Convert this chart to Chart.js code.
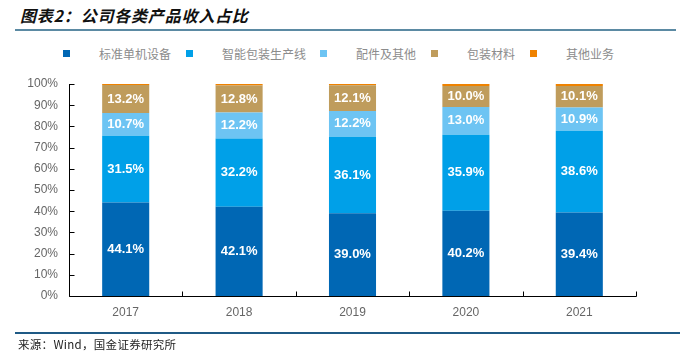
<!DOCTYPE html>
<html>
<head>
<meta charset="utf-8">
<script src="https://cdn.jsdelivr.net/npm/chart.js@4.4.1/dist/chart.umd.min.js"></script>
<style>
  body { margin: 0; background: #fff; width: 690px; height: 351px; position: relative; overflow: hidden; }
  #titulo {
    position: absolute; left: 20px; top: 3px;
    font-family: "Noto Sans CJK SC", sans-serif; font-weight: bold; font-style: italic;
    font-size: 16px; letter-spacing: 0.8px; color: #111;
  }
  #lineaTitulo { position: absolute; left: 15px; top: 29px; width: 661px; height: 2px; background: #5b8aa3; }
  #leyenda { position: absolute; top: 45px; left: 0; height: 18px; }
  .item { position: absolute; top: 0; white-space: nowrap; font-family: "Noto Sans CJK SC", sans-serif; font-size: 12px; color: #8c8c8c; line-height: 18px; }
  .caja { position: absolute; top: 5px; width: 7px; height: 7px; }
  #lineaFuente { position: absolute; left: 15px; top: 332px; width: 665px; height: 2px; background: #1f5a85; }
  #fuente {
    position: absolute; left: 18px; top: 336px;
    font-family: "Noto Sans CJK SC", "DejaVu Sans Mono", monospace; font-size: 11.5px; color: #222; letter-spacing: 0.3px;
  }
  canvas { position: absolute; left: 0; top: 0; }
</style>
</head>
<body>
<div id="titulo">图表2：公司各类产品收入占比</div>
<div id="lineaTitulo"></div>
<div id="leyenda"></div>
<canvas id="grafico" width="690" height="351"></canvas>
<div id="lineaFuente"></div>
<div id="fuente">来源：Wind，国金证券研究所</div>
<script>
const anios = ['2017', '2018', '2019', '2020', '2021'];
const series = ['标准单机设备', '智能包装生产线', '配件及其他', '包装材料', '其他业务'];
const colores = ['#0067b4', '#00a0e8', '#6dc4f3', '#bf9c5c', '#ef8200'];

const estandar = [44.1, 42.1, 39.0, 40.2, 39.4];
const lineas = [31.5, 32.2, 36.1, 35.9, 38.6];
const accesorios = [10.7, 12.2, 12.2, 13.0, 10.9];
const materiales = [13.2, 12.8, 12.1, 10.0, 10.1];
const otros = [0.5, 0.7, 0.6, 0.9, 1.0];

const valores = [estandar, lineas, accesorios, materiales, otros];
const posLeyenda = [63, 186, 320, 431, 530];

// leyenda en HTML
const leyenda = document.getElementById('leyenda');
series.forEach((nombre, i) => {
    const item = document.createElement('div');
    item.className = 'item';
    item.style.left = posLeyenda[i] + 'px';
    item.innerHTML = `<span class="caja" style="left:0;background:${colores[i]}"></span><span style="margin-left:36px">${nombre}</span>`;
    leyenda.appendChild(item);
});

const etiquetas = {
    id: 'etiquetas',
    afterDatasetsDraw(chart) {
        const ctx = chart.ctx;
        ctx.save();
        ctx.fillStyle = '#fff';
        ctx.font = 'bold 13px "Liberation Sans", Arial, sans-serif';
        ctx.textAlign = 'center';
        ctx.textBaseline = 'middle';
        chart.data.datasets.forEach((ds, i) => {
            if (i > 3) return;
            chart.getDatasetMeta(i).data.forEach((bar, j) => {
                const { x, y, base } = bar.getProps(['x', 'y', 'base'], true);
                ctx.fillText(ds.data[j].toFixed(1) + '%', x, (y + base) / 2);
            });
        });
        ctx.restore();
    }
};

const ejes = {
    id: 'ejes',
    afterDraw(chart) {
        const ctx = chart.ctx;
        const { left, right, top, bottom } = chart.chartArea;
        const x = chart.scales.x, y = chart.scales.y;
        ctx.save();
        ctx.strokeStyle = '#000';
        ctx.lineWidth = 1;
        ctx.beginPath();
        const l = Math.round(left) + 0.5, b = Math.round(bottom) + 0.5;
        ctx.moveTo(l, Math.round(top));
        ctx.lineTo(l, b);
        ctx.lineTo(Math.round(right) + 0.5, b);
        y.ticks.forEach(t => {
            const py = Math.round(y.getPixelForValue(t.value)) + 0.5;
            ctx.moveTo(l, py);
            ctx.lineTo(l + 5, py);
        });
        const paso = x.getPixelForValue(1) - x.getPixelForValue(0);
        for (let i = 0; i <= anios.length; i++) {
            const px = Math.round(x.getPixelForValue(i) - paso / 2) + 0.5;
            ctx.moveTo(px, b);
            ctx.lineTo(px, b - 5);
        }
        ctx.stroke();
        ctx.restore();
    }
};

new Chart(document.getElementById('grafico'), {
    type: 'bar',
    data: {
        labels: anios,
        datasets: series.map((nombre, i) => ({
            label: nombre,
            data: valores[i],
            backgroundColor: colores[i],
            borderWidth: 0,
            barPercentage: 1,
            categoryPercentage: 0.415
        }))
    },
    options: {
        responsive: false,
        devicePixelRatio: 1,
        animation: false,
        layout: { padding: { left: 0, right: 54, top: 84, bottom: 25 } },
        plugins: {
            legend: { display: false },
            tooltip: { enabled: false }
        },
        scales: {
            x: {
                stacked: true,
                grid: { display: false, drawTicks: false, tickLength: 0 },
                border: { display: false },
                ticks: {
                    color: '#666',
                    padding: 9,
                    font: { family: '"Liberation Sans", Arial, sans-serif', size: 12 }
                },
                afterFit: s => { s.height = 30; }
            },
            y: {
                stacked: true,
                min: 0,
                max: 100,
                grid: { display: false, drawTicks: false, tickLength: 0 },
                border: { display: false },
                ticks: {
                    stepSize: 10,
                    color: '#666',
                    padding: 11,
                    font: { family: '"Liberation Sans", Arial, sans-serif', size: 12 },
                    callback: v => v + '%'
                },
                afterFit: s => { s.width = 69; }
            }
        }
    },
    plugins: [etiquetas, ejes]
});
</script>
</body>
</html>
